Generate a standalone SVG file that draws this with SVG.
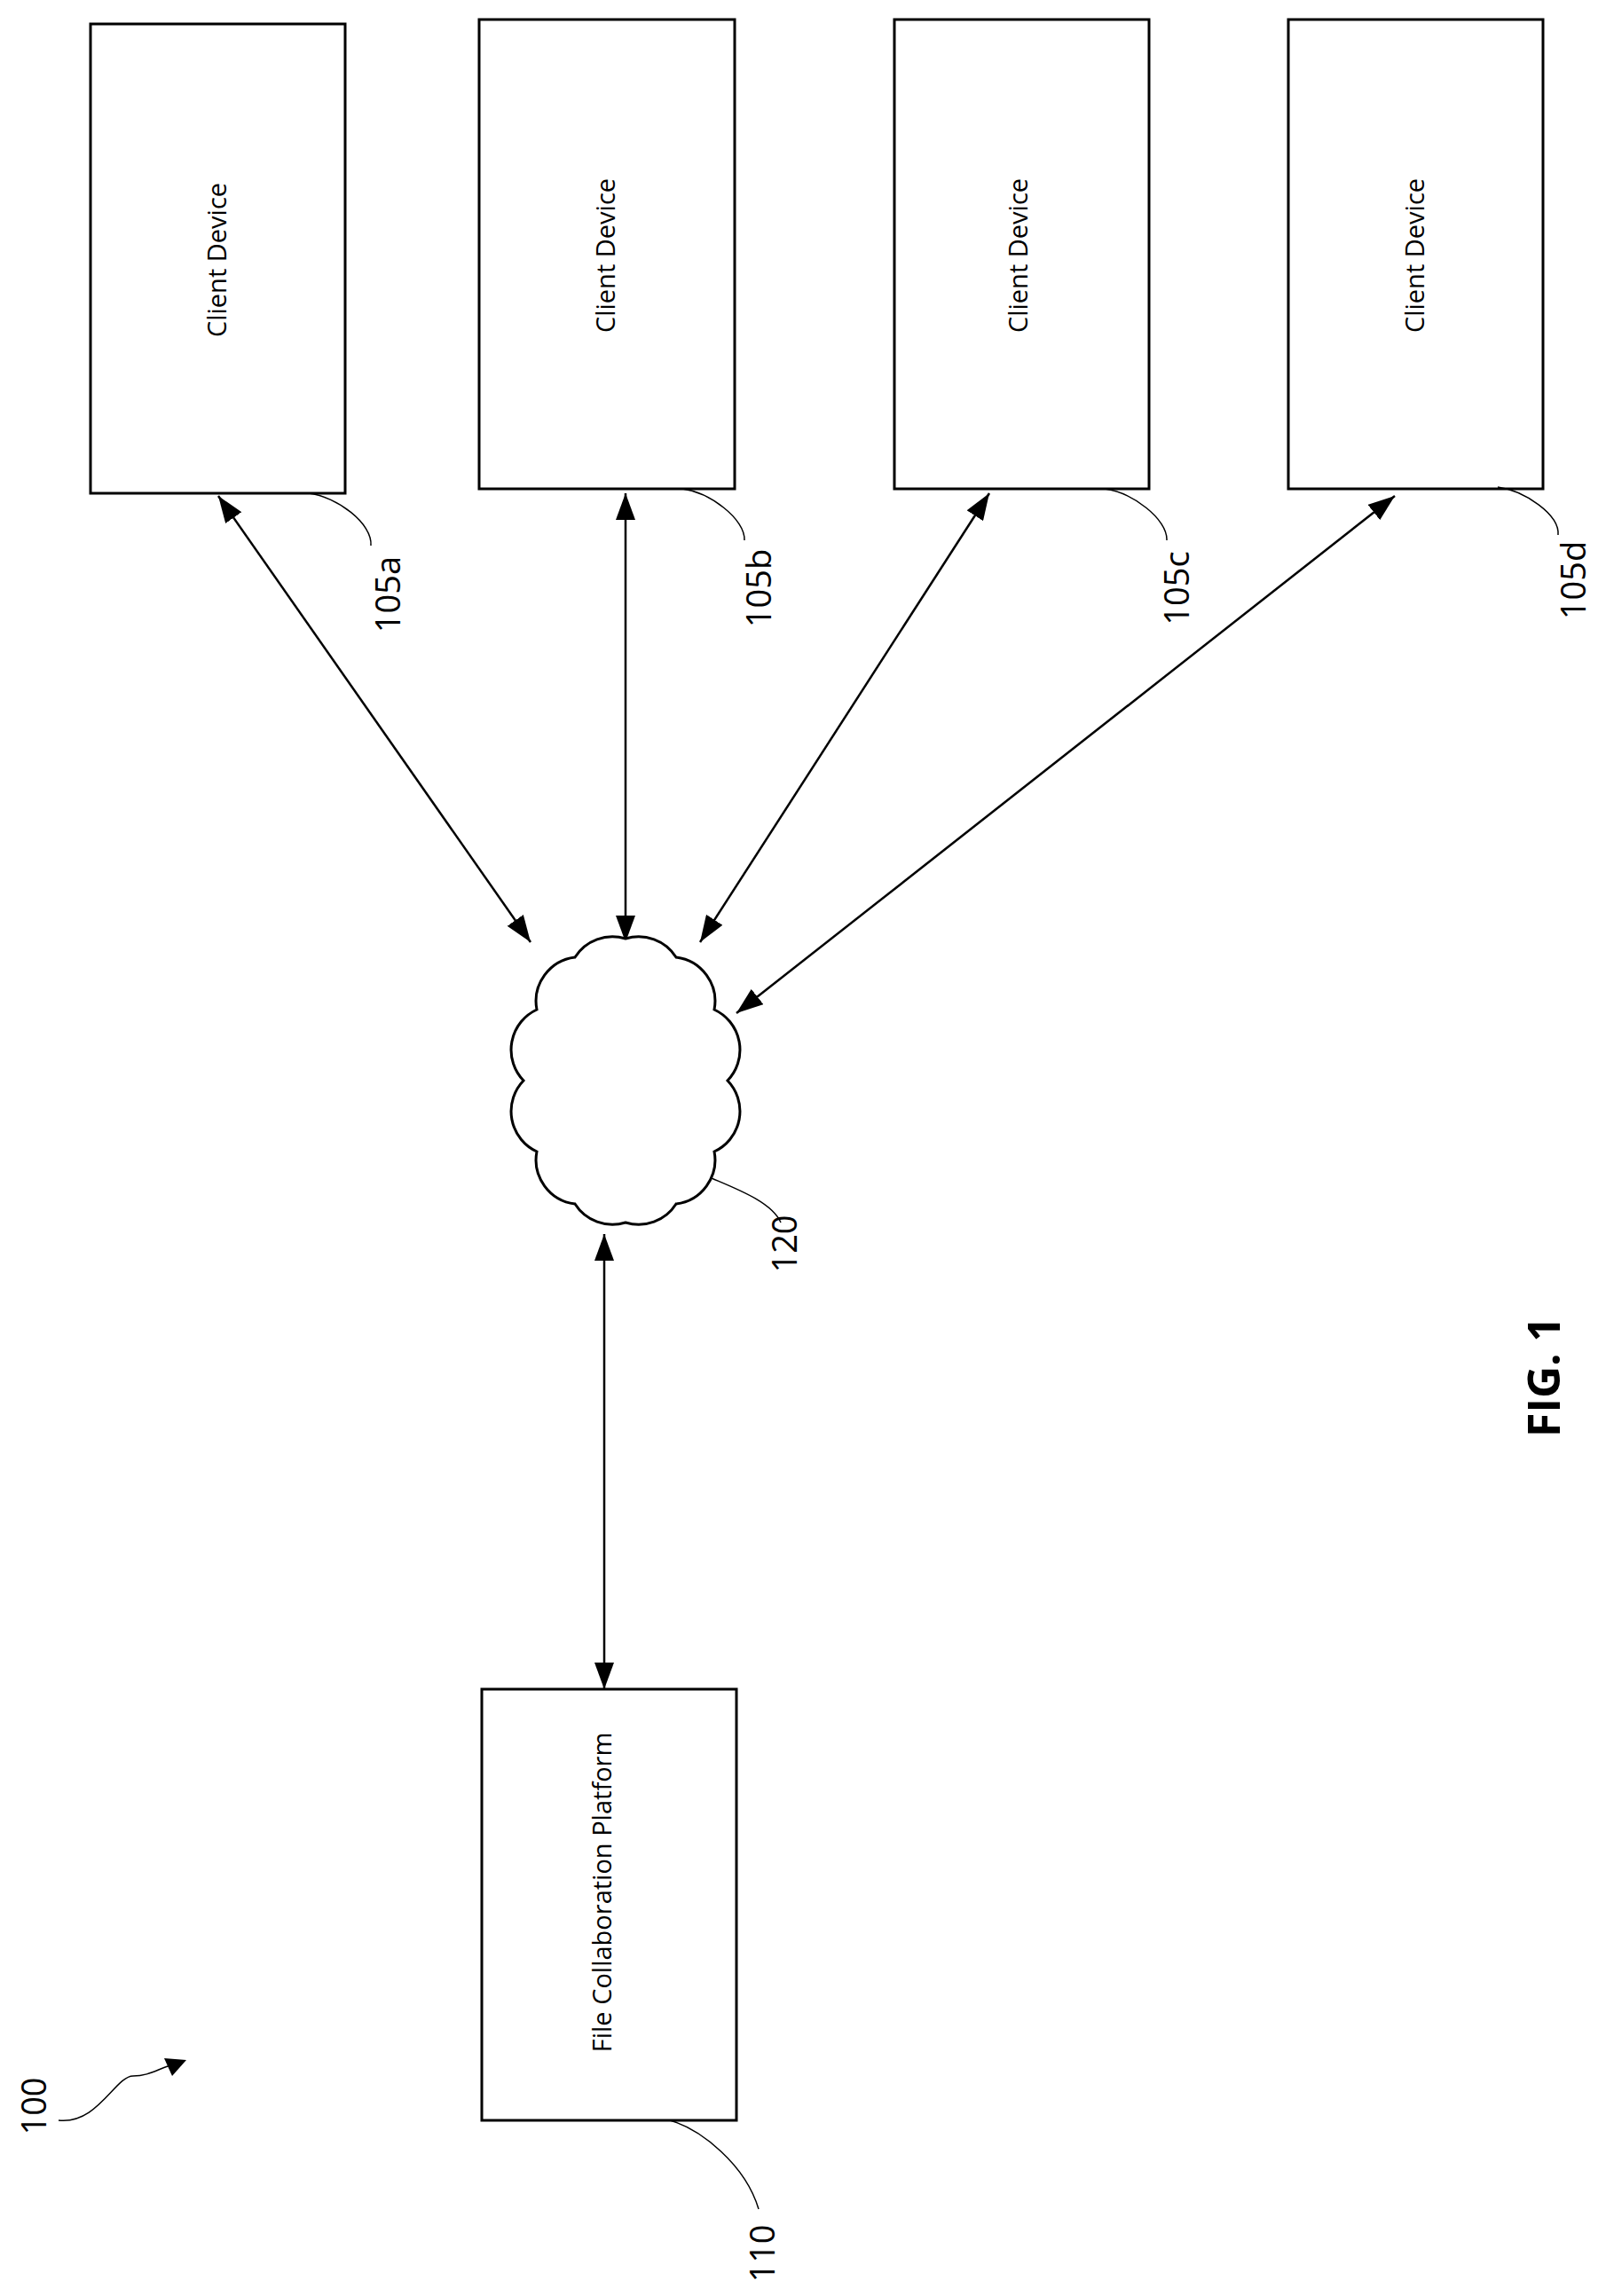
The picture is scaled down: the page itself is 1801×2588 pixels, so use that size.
<svg xmlns="http://www.w3.org/2000/svg" width="1801" height="2588" viewBox="0 0 1801 2588">
<style>
.box{fill:#fff;stroke:#000;stroke-width:3}
.lbl{font-family:"Open Sans",sans-serif;font-size:29px;fill:#000;text-anchor:middle;dominant-baseline:middle}
.ref{font-family:"Open Sans",sans-serif;font-size:38px;fill:#000;text-anchor:middle;dominant-baseline:middle}
.lead{fill:none;stroke:#000;stroke-width:1.5}
.conn{stroke:#000;stroke-width:2.5;fill:none;marker-start:url(#ah);marker-end:url(#ah)}
</style>
<defs>
<marker id="ah" markerUnits="userSpaceOnUse" markerWidth="32" markerHeight="22" refX="30" refY="11" orient="auto-start-reverse">
<path d="M0,0 L30,11 L0,22 Z" fill="#000"/>
</marker>
</defs>
<rect width="1801" height="2588" fill="#fff"/>
<g id="connectors">
<line class="conn" x1="246" y1="559" x2="598" y2="1062"/>
<line class="conn" x1="705" y1="556" x2="705" y2="1062"/>
<line class="conn" x1="1115" y1="556" x2="789" y2="1062"/>
<line class="conn" x1="1572" y1="559" x2="830" y2="1142"/>
<line class="conn" x1="681" y1="1391" x2="681" y2="1904"/>
</g>
<g id="client-a"><rect class="box" x="102" y="27" width="287" height="529"/><text class="lbl" transform="translate(247,293) rotate(-90)">Client Device</text>
<path class="lead" d="M348,556 C380,560 420,590 418,615"/><text class="ref" transform="translate(441,670) rotate(-90)">105a</text></g>
<g id="client-b"><rect class="box" x="540" y="22" width="288" height="529"/><text class="lbl" transform="translate(685,288) rotate(-90)">Client Device</text>
<path class="lead" d="M769,551 C800,555 840,585 839,609"/><text class="ref" transform="translate(859,663) rotate(-90)">105b</text></g>
<g id="client-c"><rect class="box" x="1008" y="22" width="287" height="529"/><text class="lbl" transform="translate(1150,288) rotate(-90)">Client Device</text>
<path class="lead" d="M1245,551 C1276,555 1316,585 1315,609"/><text class="ref" transform="translate(1330,663) rotate(-90)">105c</text></g>
<g id="client-d"><rect class="box" x="1452" y="22" width="287" height="529"/><text class="lbl" transform="translate(1597,288) rotate(-90)">Client Device</text>
<path class="lead" d="M1688,549 C1718,553 1758,580 1756,603"/><text class="ref" transform="translate(1777,654) rotate(-90)">105d</text></g>
<g id="network">
<path class="box" stroke-width="2.5" d="M705,1058 A50,50 0 0 1 762,1079 A50,50 0 0 1 805,1138 A50,50 0 0 1 820,1218 A50,50 0 0 1 805,1298 A50,50 0 0 1 762,1357 A50,50 0 0 1 705,1378 A50,50 0 0 1 648,1357 A50,50 0 0 1 605,1298 A50,50 0 0 1 590,1218 A50,50 0 0 1 605,1138 A50,50 0 0 1 648,1079 A50,50 0 0 1 705,1058 Z"/>
<path class="lead" d="M802,1328 C830,1340 870,1355 880,1378"/><text class="ref" transform="translate(888,1402) rotate(-90)">120</text></g>
<g id="platform"><rect class="box" x="543" y="1904" width="287" height="486"/><text class="lbl" transform="translate(681,2133) rotate(-90)">File Collaboration Platform</text>
<path class="lead" d="M755,2390 C790,2400 840,2440 855,2490"/><text class="ref" transform="translate(863,2540) rotate(-90)">110</text></g>
<g id="system"><text class="ref" transform="translate(42,2374) rotate(-90)">100</text>
<path d="M66,2390 C110,2395 130,2340 150,2340 C170,2340 180,2330 200,2326" fill="none" stroke="#000" stroke-width="1.5"/>
<path d="M210,2322 L185,2320 L194,2340 Z" fill="#000"/></g>
<text transform="translate(1745,1552) rotate(-90)" font-family="'Open Sans',sans-serif" font-weight="bold" font-size="50" text-anchor="middle" dominant-baseline="middle">FIG. 1</text>
</svg>
